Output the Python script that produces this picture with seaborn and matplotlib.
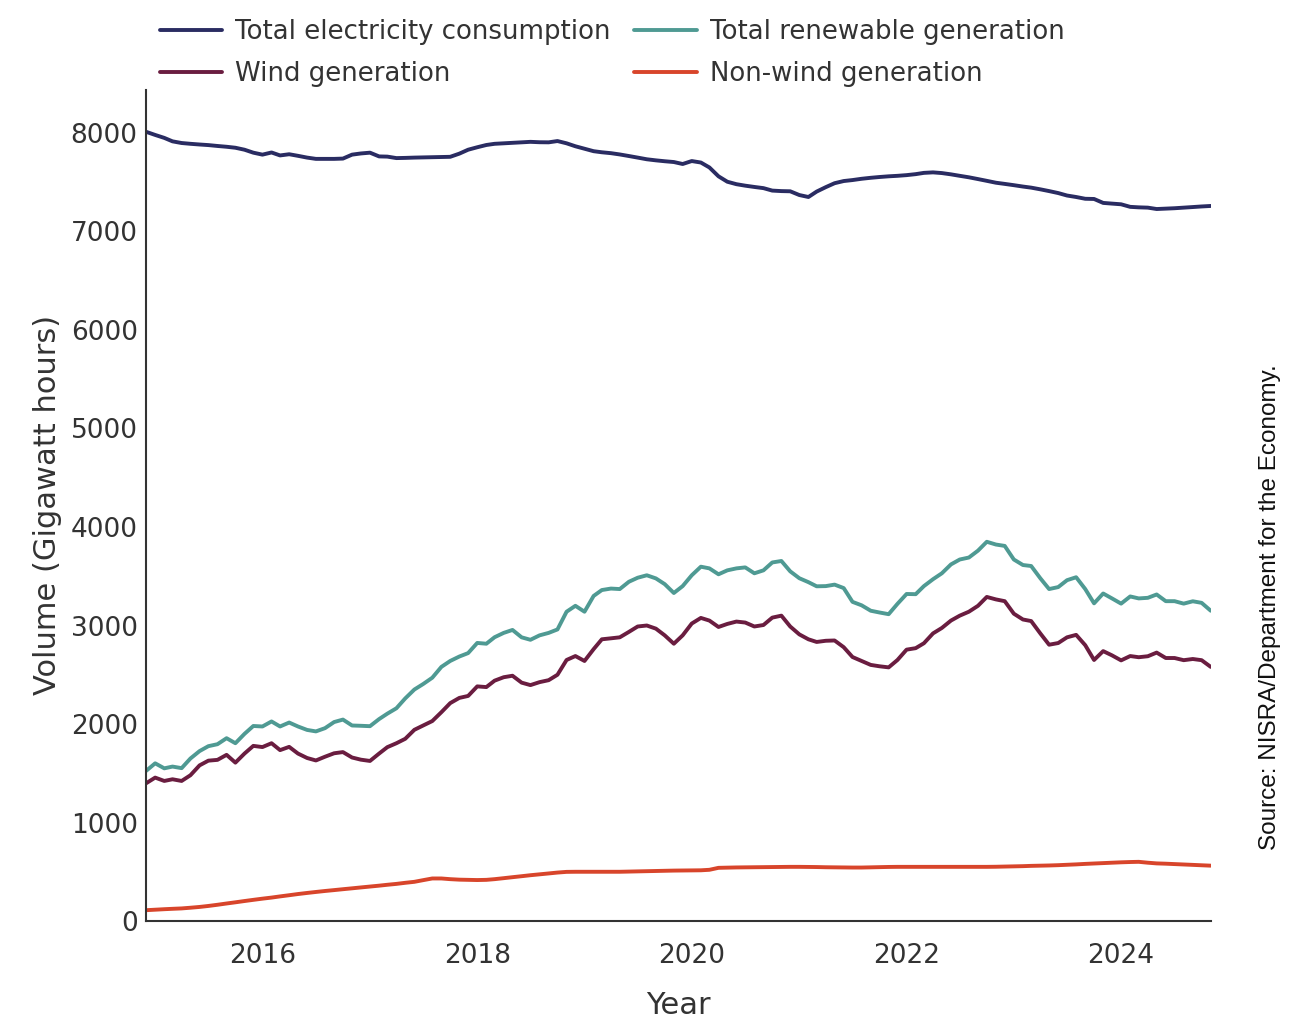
import pandas as pd
import matplotlib
matplotlib.use("Agg")
import matplotlib.pyplot as plt
import matplotlib.dates as mdates
import seaborn as sns

# monthly values, Dec 2014 - Nov 2024 (GWh)
months = pd.date_range("2014-12-01", periods=120, freq="MS")

consumption = [
    8012, 7980, 7950, 7915, 7898, 7890, 7883, 7877, 7868, 7860, 7850, 7830,
    7800, 7780, 7802, 7772, 7784, 7768, 7750, 7737, 7737, 7737, 7740, 7780,
    7792, 7800, 7762, 7760, 7745, 7747, 7750, 7752, 7754, 7756, 7758, 7790,
    7830, 7855, 7878, 7890, 7895, 7900, 7905, 7910, 7906, 7905, 7918, 7895,
    7865, 7840, 7815, 7804, 7795, 7782, 7766, 7750, 7733, 7722, 7713, 7705,
    7685, 7715, 7700, 7650, 7560, 7505, 7480, 7465, 7452, 7440, 7415, 7410,
    7408, 7370, 7350, 7405, 7450, 7490, 7512, 7522, 7535, 7545, 7553, 7560,
    7565, 7572, 7582, 7595, 7600, 7593, 7580, 7565, 7550, 7532, 7514, 7495,
    7483, 7470, 7456, 7445, 7428, 7410, 7390, 7365, 7350, 7332, 7330, 7290,
    7283, 7276, 7250, 7245, 7242, 7228, 7232, 7236, 7242, 7248, 7254, 7259,
]

renewable = [
    1524, 1601, 1550, 1568, 1552, 1650, 1725, 1775, 1795, 1856, 1805, 1900,
    1980, 1975, 2026, 1975, 2015, 1975, 1940, 1925, 1958, 2020, 2045, 1985,
    1982, 1978, 2050, 2105, 2160, 2260, 2350, 2406, 2470, 2580, 2640, 2685,
    2720, 2823, 2815, 2881, 2925, 2955, 2880, 2855, 2900, 2925, 2960, 3140,
    3200, 3140, 3300, 3360, 3375, 3370, 3444, 3485, 3510, 3478, 3420, 3330,
    3400, 3510, 3597, 3580, 3520, 3560, 3580, 3590, 3530, 3560, 3640, 3655,
    3550, 3480, 3440, 3398, 3400, 3415, 3380, 3240, 3205, 3150, 3132, 3115,
    3220, 3320, 3318, 3400, 3470, 3530, 3620, 3670, 3690, 3760, 3850, 3822,
    3808, 3670, 3614, 3604, 3480, 3370, 3390, 3460, 3490, 3370, 3225, 3325,
    3275, 3222, 3295, 3275, 3281, 3315, 3247, 3247, 3222, 3246, 3230, 3150,
]

wind = [
    1398, 1456, 1422, 1439, 1422, 1480, 1580, 1628, 1636, 1687, 1608, 1700,
    1778, 1766, 1805, 1735, 1768, 1700, 1655, 1630, 1668, 1703, 1715, 1660,
    1638, 1625, 1700, 1765, 1805, 1850, 1941, 1985, 2030, 2120, 2212, 2265,
    2285, 2382, 2375, 2440, 2475, 2490, 2420, 2395, 2425, 2445, 2500, 2650,
    2690, 2640, 2760, 2860, 2870, 2880, 2935, 2990, 3000, 2968, 2900, 2815,
    2900, 3020, 3077, 3050, 2985, 3016, 3040, 3030, 2990, 3005, 3080, 3100,
    2990, 2910, 2860, 2833, 2845, 2848, 2780, 2680, 2640, 2600, 2586, 2575,
    2650, 2755, 2770, 2820, 2920, 2975, 3050, 3100, 3140, 3200, 3290, 3265,
    3247, 3120, 3061, 3045, 2920, 2805, 2822, 2880, 2905, 2800, 2650, 2740,
    2697, 2646, 2690, 2678, 2688, 2725, 2670, 2670, 2648, 2660, 2648, 2580,
]

non_wind = [
    110, 115, 120, 124, 128, 135, 143, 153, 165, 178, 190, 203,
    215, 227, 238, 250, 262, 274, 285, 295, 305, 314, 323, 332,
    341, 350, 359, 368, 377, 388, 398, 415, 432, 432, 425, 420,
    418, 416, 418, 425, 435, 445, 455, 465, 474, 483, 492, 499,
    500, 500, 500, 500, 500, 500, 502, 504, 506, 508, 510, 512,
    513, 514, 515, 520, 540, 542, 544, 545, 546, 547, 548, 549,
    550, 550, 549, 548, 546, 545, 544, 543, 543, 545, 547, 549,
    550, 550, 550, 550, 550, 550, 550, 550, 550, 550, 550, 551,
    553, 555, 557, 560, 562, 564, 567, 571, 575, 580, 584, 588,
    592, 596, 599, 601, 592, 585, 582, 578, 574, 570, 566, 562,
]

series_names = ["Total electricity consumption", "Wind generation",
                "Total renewable generation", "Non-wind generation"]
colors = ["#2a2c62", "#6a1d40", "#4f9a93", "#d8452b"]

df = pd.DataFrame({
    "Year": list(months) * 4,
    "Volume": consumption + wind + renewable + non_wind,
    "Series": [n for n in series_names for _ in range(len(months))],
})

sns.set_style("white")
plt.rcParams["font.family"] = ["DejaVu Sans"]

fig = plt.figure(figsize=(12.96, 10.22), dpi=100)
ax = fig.add_axes([0.1127, 0.0988, 0.8215, 0.8135])

sns.lineplot(data=df, x="Year", y="Volume", hue="Series", hue_order=series_names,
             palette=colors, linewidth=2.8, ax=ax, legend=False)

ax.set_xlim(months[0], months[-1])
ax.set_ylim(0, 8440)
ax.set_yticks(range(0, 8001, 1000))
ax.xaxis.set_major_locator(mdates.YearLocator(2))
ax.xaxis.set_major_formatter(mdates.DateFormatter("%Y"))

ax.tick_params(axis="x", length=6.5, width=1.5, color="#222222", labelsize=19, labelcolor="#333333", pad=9)
ax.tick_params(axis="y", length=0, labelsize=19, labelcolor="#333333", pad=6)
for s in ["top", "right"]:
    ax.spines[s].set_visible(False)
for s in ["left", "bottom"]:
    ax.spines[s].set_color("#333333")
    ax.spines[s].set_linewidth(1.5)

ax.set_xlabel("Year", fontsize=22, color="#333333", labelpad=16)
ax.set_ylabel("Volume (Gigawatt hours)", fontsize=22, color="#333333", labelpad=6)

handles = [plt.Line2D([], [], color=c, linewidth=2.8) for c in colors]
fig.legend(handles, series_names, loc="upper left", bbox_to_anchor=(0.1235, 0.981),
           ncol=2, frameon=False, fontsize=18.7, handlelength=2.4, handletextpad=0.5,
           columnspacing=0.9, labelspacing=0.6, borderpad=0, borderaxespad=0,
           labelcolor="#333333")

fig.text(0.980, 0.406, "Source: NISRA/Department for the Economy.", rotation=90,
         ha="center", va="center", fontsize=17.5, color="#111111",
         family=["Liberation Sans", "DejaVu Sans"])

fig.savefig("out.png", dpi=100, facecolor="white")
